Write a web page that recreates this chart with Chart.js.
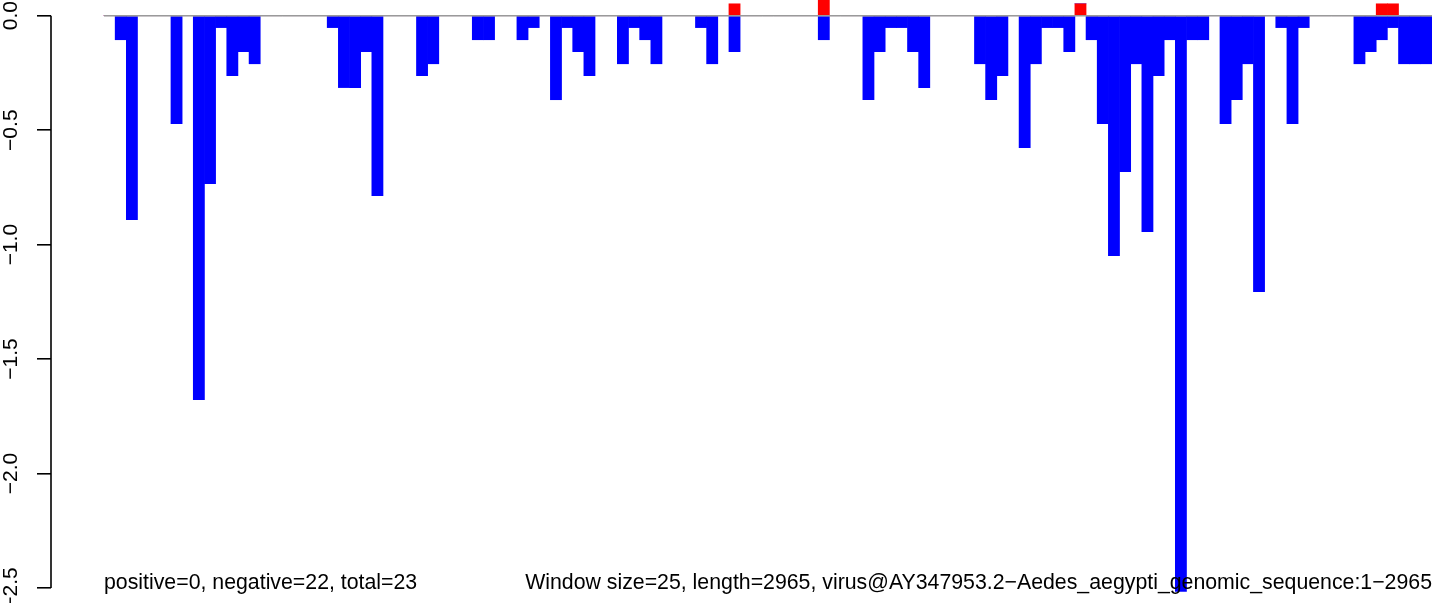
<!DOCTYPE html>
<html>
<head>
<meta charset="utf-8">
<script src="https://cdn.jsdelivr.net/npm/chart.js@4.4.1/dist/chart.umd.min.js"></script>
<style>
  html, body { margin: 0; padding: 0; background: #fff; }
  #c { display: block; }
</style>
</head>
<body>
<canvas id="c" width="1452" height="603"></canvas>
<script>
// ---- data ----
const windowCount = 119; // length 2965 / window 25
const windowIndex = Array.from({ length: windowCount }, (_, i) => i);

const negativeValues = [
  0, -0.105, -0.891, 0, 0, 0, -0.472, 0, -1.677, -0.734,
  -0.052, -0.262, -0.157, -0.210, 0, 0, 0, 0, 0, 0,
  -0.052, -0.314, -0.314, -0.157, -0.786, 0, 0, 0, -0.262, -0.210,
  0, 0, 0, -0.105, -0.105, 0, 0, -0.105, -0.052, 0,
  -0.367, -0.052, -0.157, -0.262, 0, 0, -0.210, -0.052, -0.105, -0.210,
  0, 0, 0, -0.052, -0.210, 0, -0.157, 0, 0, 0,
  0, 0, 0, 0, -0.105, 0, 0, 0, -0.367, -0.157,
  -0.052, -0.052, -0.157, -0.314, 0, 0, 0, 0, -0.210, -0.367,
  -0.262, 0, -0.576, -0.210, -0.052, -0.052, -0.157, 0, -0.105, -0.472,
  -1.048, -0.681, -0.210, -0.943, -0.262, -0.105, -2.515, -0.105, -0.105, 0,
  -0.472, -0.367, -0.210, -1.205, 0, -0.052, -0.472, -0.052, 0, 0,
  0, 0, -0.210, -0.157, -0.105, -0.052, -0.210, -0.210, -0.210
];

const positiveValues = [
  0, 0, 0, 0, 0, 0, 0, 0, 0, 0,
  0, 0, 0, 0, 0, 0, 0, 0, 0, 0,
  0, 0, 0, 0, 0, 0, 0, 0, 0, 0,
  0, 0, 0, 0, 0, 0, 0, 0, 0, 0,
  0, 0, 0, 0, 0, 0, 0, 0, 0, 0,
  0, 0, 0, 0, 0, 0, 0.052, 0, 0, 0,
  0, 0, 0, 0, 0.105, 0, 0, 0, 0, 0,
  0, 0, 0, 0, 0, 0, 0, 0, 0, 0,
  0, 0, 0, 0, 0, 0, 0, 0.052, 0, 0,
  0, 0, 0, 0, 0, 0, 0, 0, 0, 0,
  0, 0, 0, 0, 0, 0, 0, 0, 0, 0,
  0, 0, 0, 0, 0.052, 0.052, 0, 0, 0
];

const yTickValues = [0, -0.5, -1.0, -1.5, -2.0, -2.5];

const leftNote = 'positive=0, negative=22, total=23';
const rightNote = 'Window size=25, length=2965, virus@AY347953.2\u2212Aedes_aegypti_genomic_sequence:1\u22122965';

// ---- chart ----
const FONT = '"Liberation Sans", Arial, Helvetica, sans-serif';
const toPoints = arr => arr.map((v, i) => ({ x: windowIndex[i] + 0.5, y: v }));

const overlay = {
  id: 'overlay',
  afterDatasetsDraw(chart) {
    const { ctx, scales: { x, y } } = chart;
    const y0 = y.getPixelForValue(0);
    ctx.save();
    // zero reference line
    ctx.strokeStyle = '#9a9a9a';
    ctx.lineWidth = 1.5;
    ctx.beginPath();
    ctx.moveTo(x.getPixelForValue(0), y0);
    ctx.lineTo(x.getPixelForValue(windowCount), y0);
    ctx.stroke();
    // y axis line (only across tick range)
    ctx.strokeStyle = '#000';
    ctx.lineWidth = 1.6;
    ctx.beginPath();
    ctx.moveTo(y.right, y.getPixelForValue(yTickValues[0]));
    ctx.lineTo(y.right, y.getPixelForValue(yTickValues[yTickValues.length - 1]));
    ctx.stroke();
    // notes
    ctx.fillStyle = '#000';
    ctx.font = '21.3px ' + FONT;
    ctx.textBaseline = 'alphabetic';
    const by = y.getPixelForValue(-2.5) + 0.5;
    ctx.textAlign = 'left';
    ctx.fillText(leftNote, x.getPixelForValue(0), by);
    ctx.textAlign = 'right';
    ctx.fillText(rightNote, x.getPixelForValue(windowCount), by);
    ctx.restore();
  }
};

new Chart(document.getElementById('c'), {
  type: 'bar',
  data: {
    datasets: [
      { label: 'positive', data: toPoints(positiveValues), backgroundColor: '#ff0000', borderWidth: 0 },
      { label: 'negative', data: toPoints(negativeValues), backgroundColor: '#0000ff', borderWidth: 0 }
    ]
  },
  options: {
    responsive: false,
    animation: false,
    devicePixelRatio: 1,
    layout: { padding: { left: 0, right: 20, top: 0, bottom: 0 } },
    datasets: { bar: { barPercentage: 1, categoryPercentage: 1 } },
    plugins: { legend: { display: false }, tooltip: { enabled: false } },
    scales: {
      x: {
        type: 'linear',
        stacked: true,
        offset: false,
        grid: { offset: false },
        min: -4.75,
        max: windowCount,
        display: false
      },
      y: {
        stacked: true,
        min: -2.5655,
        max: 0.0686,
        afterBuildTicks: s => { s.ticks = yTickValues.map(v => ({ value: v })); },
        afterFit: s => { s.width = 51; s.paddingTop = 0; s.paddingBottom = 0; },
        border: { display: false },
        grid: {
          display: true,
          drawOnChartArea: false,
          drawTicks: true,
          tickLength: 14,
          color: '#000',
          lineWidth: 1.6
        },
        ticks: {
          autoSkip: false,
          minRotation: 90,
          maxRotation: 90,
          crossAlign: 'center',
          padding: 5,
          color: '#000',
          font: { family: FONT, size: 21 },
          callback: v => Number(v).toFixed(1).replace('-', '\u2212')
        }
      }
    }
  },
  plugins: [overlay]
});
</script>
</body>
</html>
